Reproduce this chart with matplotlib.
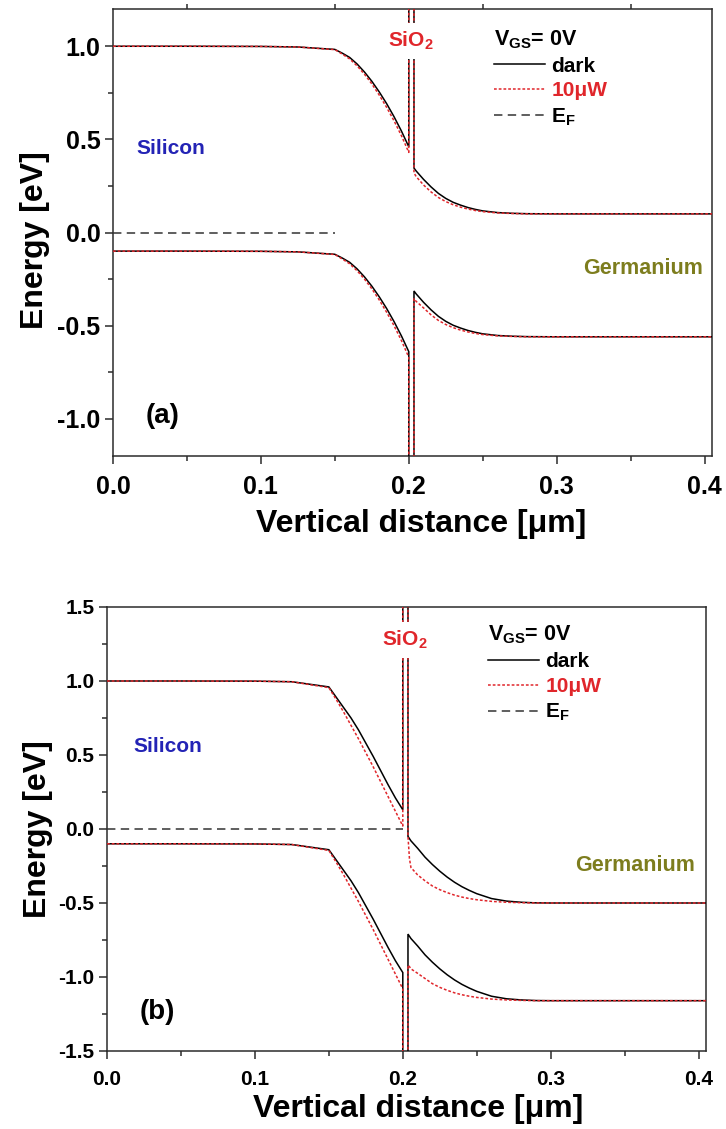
import matplotlib
matplotlib.use("Agg")
import matplotlib.pyplot as plt
from matplotlib.lines import Line2D
from matplotlib.ticker import MultipleLocator, FormatStrFormatter

plt.rcParams['font.family'] = ['Liberation Sans', 'DejaVu Sans']
plt.rcParams['font.weight'] = 'bold'
plt.rcParams['mathtext.fontset'] = 'custom'
plt.rcParams['mathtext.rm'] = 'Liberation Sans:bold'
plt.rcParams['mathtext.bf'] = 'Liberation Sans:bold'
plt.rcParams['mathtext.it'] = 'Liberation Sans:bold'

# ---------------- data ----------------
# oxide layer boundaries [um] and off-scale band edges inside the oxide [eV]
x_ox = [0.2, 0.2035]
ec_ox = 3.5
ev_ox = -5.0

# silicon side grid [um]
x_si = [0.0, 0.05, 0.10, 0.125, 0.15, 0.155, 0.16, 0.165, 0.17, 0.175,
        0.18, 0.185, 0.19, 0.195, 0.2]

# panel (a)
a_ec_si_dark = [1.0, 1.0, 0.999, 0.996, 0.983, 0.963, 0.94, 0.905, 0.862,
                0.812, 0.755, 0.692, 0.622, 0.545, 0.46]
a_ec_si_light = [1.0, 1.0, 0.999, 0.996, 0.982, 0.958, 0.932, 0.895, 0.85,
                 0.798, 0.738, 0.672, 0.60, 0.52, 0.43]
a_ev_si_dark = [-0.1, -0.1, -0.101, -0.104, -0.117, -0.137, -0.16, -0.195,
                -0.238, -0.288, -0.345, -0.408, -0.478, -0.555, -0.64]
a_ev_si_light = [-0.1, -0.1, -0.101, -0.104, -0.118, -0.142, -0.168, -0.205,
                 -0.25, -0.302, -0.362, -0.428, -0.50, -0.58, -0.67]

xa_ge = [0.2035, 0.205, 0.21, 0.215, 0.22, 0.225, 0.23, 0.235, 0.24, 0.245,
         0.25, 0.26, 0.27, 0.28, 0.30, 0.405]
a_ec_ge_dark = [0.346, 0.33, 0.285, 0.245, 0.21, 0.183, 0.162, 0.147, 0.134,
                0.124, 0.116, 0.107, 0.103, 0.101, 0.1, 0.1]
a_ec_ge_light = [0.32, 0.30, 0.255, 0.218, 0.188, 0.166, 0.149, 0.136, 0.126,
                 0.118, 0.112, 0.105, 0.102, 0.1, 0.1, 0.1]
a_ev_ge_dark = [-0.314, -0.33, -0.375, -0.415, -0.45, -0.477, -0.498, -0.513,
                -0.526, -0.536, -0.544, -0.553, -0.557, -0.559, -0.56, -0.56]
a_ev_ge_light = [-0.355, -0.37, -0.405, -0.442, -0.472, -0.494, -0.511,
                 -0.524, -0.534, -0.542, -0.548, -0.555, -0.558, -0.56,
                 -0.56, -0.56]
a_ef_x = [0.0, 0.15]
a_ef_y = [0.0, 0.0]

# panel (b)
b_ec_si_dark = [1.0, 1.0, 0.999, 0.995, 0.96, 0.89, 0.82, 0.75, 0.67, 0.58,
                0.49, 0.395, 0.30, 0.21, 0.13]
b_ec_si_light = [1.0, 1.0, 0.999, 0.995, 0.955, 0.875, 0.79, 0.70, 0.61,
                 0.515, 0.42, 0.32, 0.22, 0.12, 0.02]
b_ev_si_dark = [-0.1, -0.1, -0.101, -0.105, -0.14, -0.21, -0.28, -0.35,
                -0.43, -0.52, -0.61, -0.705, -0.80, -0.89, -0.97]
b_ev_si_light = [-0.1, -0.1, -0.101, -0.105, -0.145, -0.225, -0.31, -0.40,
                 -0.49, -0.585, -0.68, -0.78, -0.88, -0.98, -1.08]

xb_ge = [0.2035, 0.2045, 0.2055, 0.21, 0.215, 0.22, 0.225, 0.23, 0.235,
         0.24, 0.245, 0.25, 0.26, 0.27, 0.28, 0.29, 0.30, 0.405]
b_ec_ge_dark = [-0.05, -0.065, -0.08, -0.13, -0.19, -0.24, -0.285, -0.325,
                -0.36, -0.39, -0.415, -0.437, -0.47, -0.487, -0.495, -0.499,
                -0.5, -0.5]
b_ec_ge_light = [-0.05, -0.20, -0.26, -0.31, -0.35, -0.385, -0.41, -0.43,
                 -0.447, -0.46, -0.47, -0.478, -0.489, -0.495, -0.498, -0.5,
                 -0.5, -0.5]
b_ev_ge_dark = [-0.71, -0.725, -0.74, -0.79, -0.85, -0.90, -0.945, -0.985,
                -1.02, -1.05, -1.075, -1.097, -1.13, -1.147, -1.155, -1.159,
                -1.16, -1.16]
b_ev_ge_light = [-0.92, -0.93, -0.945, -0.975, -1.01, -1.045, -1.07, -1.09,
                 -1.107, -1.12, -1.13, -1.138, -1.149, -1.155, -1.158, -1.16,
                 -1.16, -1.16]
b_ef_x = [0.0, 0.2]
b_ef_y = [0.0, 0.0]

legend_labels = ['dark', '10\u03bcW', r'E$_\mathregular{F}$']

# ---------------- style ----------------
RED = '#e0262b'
BLUE = '#2323b5'
OLIVE = '#7d7d1e'
AX_COL = '#2b2b2b'
LW = 1.1
RED_LS = (0, (1.8, 1.3))
EF_LS = (0, (5.5, 3.5))


def band(x_left, y_left, x_right, y_right, y_oxide):
    xs = list(x_left) + [x_ox[0], x_ox[1]] + list(x_right)
    ys = list(y_left) + [y_oxide, y_oxide] + list(y_right)
    return xs, ys


def draw_panel(ax, ec_d, ec_l, ev_d, ev_l, x_ge, ecg_d, ecg_l, evg_d, evg_l,
               ef_x, ef_y):
    for (yl, yr, yo) in [(ec_d, ecg_d, ec_ox), (ev_d, evg_d, ev_ox)]:
        xs, ys = band(x_si, yl, x_ge, yr, yo)
        ax.plot(xs, ys, color='black', lw=LW, solid_joinstyle='miter', zorder=3)
    for (yl, yr, yo) in [(ec_l, ecg_l, ec_ox), (ev_l, evg_l, ev_ox)]:
        xs, ys = band(x_si, yl, x_ge, yr, yo)
        ax.plot(xs, ys, color=RED, lw=LW, ls=RED_LS, zorder=4)
    ax.plot(ef_x, ef_y, color='#333333', lw=LW, ls=EF_LS, zorder=3)


def style_axes(ax, ylim, ystep, tick_fs, top_minor):
    ax.set_xlim(0.0, 0.405)
    ax.set_ylim(*ylim)
    ax.xaxis.set_major_locator(MultipleLocator(0.1))
    ax.xaxis.set_minor_locator(MultipleLocator(0.05))
    ax.yaxis.set_major_locator(MultipleLocator(ystep))
    ax.yaxis.set_minor_locator(MultipleLocator(ystep / 2))
    ax.xaxis.set_major_formatter(FormatStrFormatter('%.1f'))
    ax.yaxis.set_major_formatter(FormatStrFormatter('%.1f'))
    for s in ax.spines.values():
        s.set_linewidth(1.1)
        s.set_color(AX_COL)
    ax.tick_params(which='both', direction='out', width=1.1, color=AX_COL,
                   labelsize=tick_fs)
    ax.tick_params(which='major', length=6)
    ax.tick_params(which='minor', length=3.5)
    ax.tick_params(axis='x', pad=8)
    ax.tick_params(axis='y', pad=3)
    if top_minor:
        ax.tick_params(axis='x', which='minor', top=True, length=3.5)
        ax.tick_params(axis='x', which='major', top=False)
    for lab in ax.get_xticklabels() + ax.get_yticklabels():
        lab.set_fontweight('bold')


def add_legend(ax, anchor, fs):
    handles = [Line2D([], [], color='black', lw=LW),
               Line2D([], [], color=RED, lw=LW, ls=RED_LS),
               Line2D([], [], color='#333333', lw=LW, ls=EF_LS)]
    leg = ax.legend(handles, legend_labels, loc='upper left',
                    bbox_to_anchor=anchor, frameon=False,
                    title=r'V$_\mathregular{GS}$= 0V', alignment='left',
                    prop={'size': fs, 'weight': 'bold'},
                    title_fontproperties={'size': fs + 0.5, 'weight': 'bold'},
                    handlelength=2.45, handletextpad=0.3, labelspacing=0.28,
                    borderpad=0.0, borderaxespad=0.0)
    leg.get_texts()[1].set_color(RED)
    return leg


fig = plt.figure(figsize=(7.26, 11.29), dpi=100)
ax_a = fig.add_axes([113 / 726, 1 - 456 / 1129, 599 / 726, 447 / 1129])
ax_b = fig.add_axes([107 / 726, 1 - 1051 / 1129, 599 / 726, 444 / 1129])

# panel (a)
draw_panel(ax_a, a_ec_si_dark, a_ec_si_light, a_ev_si_dark, a_ev_si_light,
           xa_ge, a_ec_ge_dark, a_ec_ge_light, a_ev_ge_dark, a_ev_ge_light,
           a_ef_x, a_ef_y)
style_axes(ax_a, (-1.2, 1.2), 0.5, 18, True)
ax_a.set_xlabel('Vertical distance [\u03bcm]', fontsize=23, fontweight='bold')
ax_a.set_ylabel('Energy [eV]', fontsize=23, fontweight='bold')
ax_a.xaxis.set_label_coords(0.515, -0.118)
ax_a.yaxis.set_label_coords(-0.106, 0.483)
ax_a.text(0.2015, 1.03, r'SiO$_\mathregular{2}$', color=RED, fontsize=15,
          fontweight='bold', ha='center', va='center', zorder=6,
          bbox=dict(facecolor='white', edgecolor='none', pad=5))
ax_a.text(0.016, 0.453, 'Silicon', color=BLUE, fontsize=15, fontweight='bold',
          ha='left', va='center')
ax_a.text(0.3986, -0.194, 'Germanium', color=OLIVE, fontsize=15.5,
          fontweight='bold', ha='right', va='center')
ax_a.text(0.022, -0.987, '(a)', fontsize=20, fontweight='bold',
          ha='left', va='center')
add_legend(ax_a, (0.636, 0.957), 15)

# panel (b)
draw_panel(ax_b, b_ec_si_dark, b_ec_si_light, b_ev_si_dark, b_ev_si_light,
           xb_ge, b_ec_ge_dark, b_ec_ge_light, b_ev_ge_dark, b_ev_ge_light,
           b_ef_x, b_ef_y)
style_axes(ax_b, (-1.5, 1.5), 0.5, 15, False)
ax_b.set_xlabel('Vertical distance [\u03bcm]', fontsize=23, fontweight='bold')
ax_b.set_ylabel('Energy [eV]', fontsize=23, fontweight='bold')
ax_b.xaxis.set_label_coords(0.52, -0.096)
ax_b.yaxis.set_label_coords(-0.09, 0.5)
ax_b.text(0.2014, 1.28, r'SiO$_\mathregular{2}$', color=RED, fontsize=15,
          fontweight='bold', ha='center', va='center', zorder=6,
          bbox=dict(facecolor='white', edgecolor='none', pad=5))
ax_b.text(0.018, 0.56, 'Silicon', color=BLUE, fontsize=15, fontweight='bold',
          ha='left', va='center')
ax_b.text(0.3975, -0.245, 'Germanium', color=OLIVE, fontsize=15.5,
          fontweight='bold', ha='right', va='center')
ax_b.text(0.022, -1.235, '(b)', fontsize=20, fontweight='bold',
          ha='left', va='center')
add_legend(ax_b, (0.636, 0.962), 15)

fig.savefig('out.png', dpi=100)
